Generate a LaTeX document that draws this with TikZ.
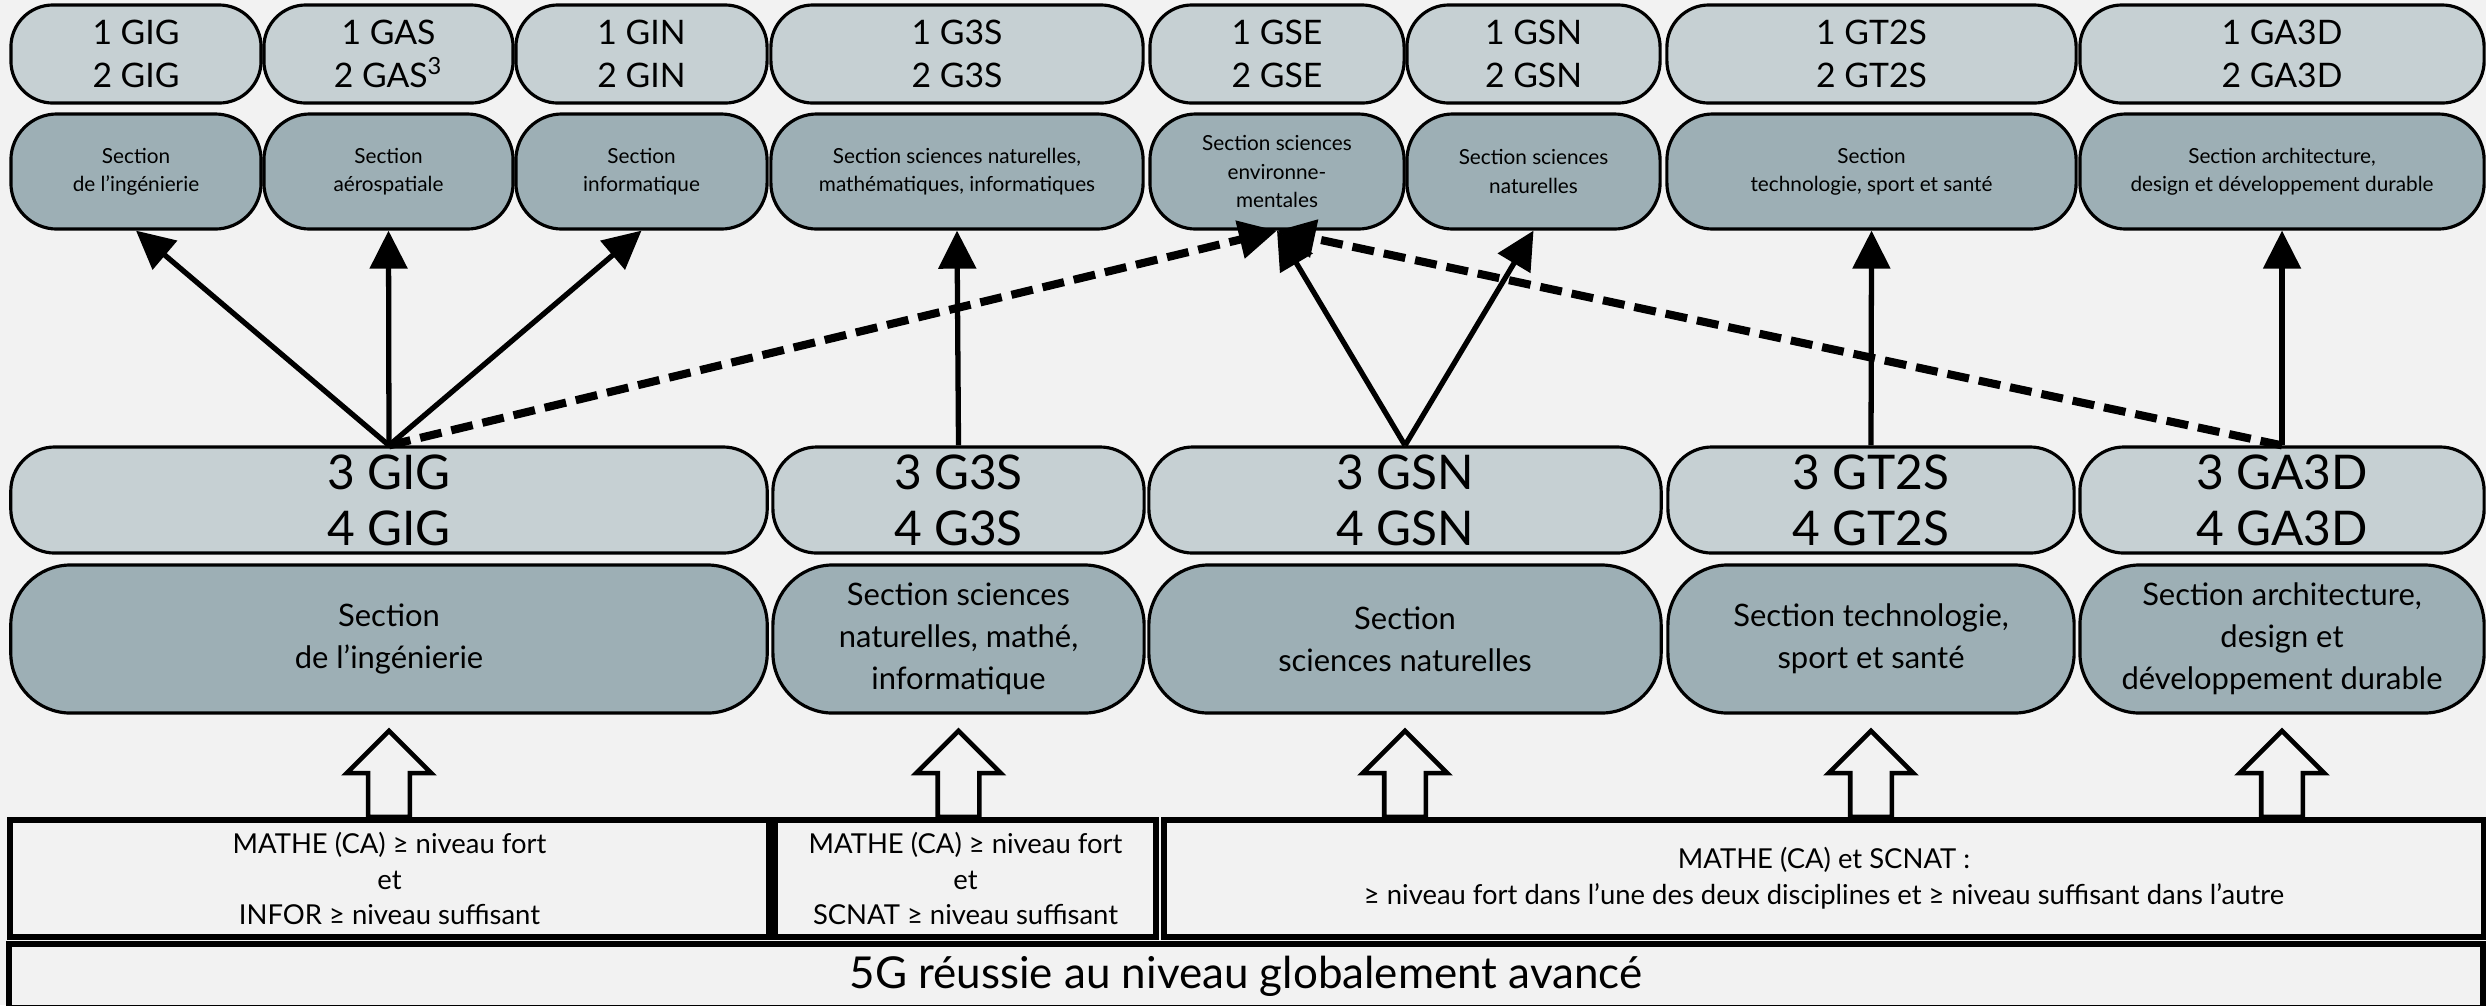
\documentclass[tikz,border=0pt]{standalone}
\usepackage{fontspec}
\setmainfont{Lato}
\usetikzlibrary{arrows.meta,shapes.arrows,calc}

\begin{document}
\begin{tikzpicture}[x=0.01cm,y=-0.01cm]
  % Colors
  \definecolor{backcolor}{HTML}{F2F2F2}
  \definecolor{lightcolor}{HTML}{C6D0D3}
  \definecolor{darkcolor}{HTML}{9DAFB5}

  % Styles
  \tikzstyle{pill}=[draw,line width=0.9pt,align=center,inner sep=0pt]
  \tikzstyle{year}=[pill,fill=lightcolor,minimum height=0.98cm,rounded corners=0.42cm,font=\fontsize{9.6}{12.2}\selectfont]
  \tikzstyle{section}=[pill,fill=darkcolor,minimum height=1.15cm,rounded corners=0.46cm,font=\fontsize{5.9}{8}\selectfont]
  \tikzstyle{upper year}=[pill,fill=lightcolor,minimum height=1.06cm,rounded corners=0.44cm,font=\fontsize{13.6}{16}\selectfont]
  \tikzstyle{upper section}=[pill,fill=darkcolor,minimum height=1.48cm,rounded corners=0.6cm,font=\fontsize{8.8}{11.9}\selectfont]
  \tikzstyle{condition}=[draw,line width=1.7pt,minimum height=1.17cm,align=center,font=\fontsize{7.8}{10.2}\selectfont]
  \tikzstyle{hollow arrow}=[draw,fill=backcolor,line width=1.3pt,single arrow,shape border rotate=90,anchor=tip,
    inner sep=0.185cm,minimum height=0.86cm,single arrow head extend=0.215cm,single arrow tip angle=90]
  \tikzstyle{thin arrow}=[line width=1.5pt,-{Triangle[length=0.38cm,width=0.37cm]}]
  \tikzstyle{dashed arrow}=[thin arrow,line width=2.3pt,dash pattern=on 0.22cm off 0.1cm]

  \useasboundingbox[fill=backcolor] (0,0) rectangle (2486,1005);

  % First and second years
  \node[year,minimum width=2.50cm] (a1) at (136,54) {1 GIG\\2 GIG};
  \node[year,minimum width=2.49cm] (a2) at (388.5,54) {1 GAS\\2 GAS\textsuperscript{3}};
  \node[year,minimum width=2.51cm] (a3) at (641.5,54) {1 GIN\\2 GIN};
  \node[year,minimum width=3.72cm] (a4) at (957,54) {1 G3S\\2 G3S};
  \node[year,minimum width=2.54cm] (a5) at (1277,54) {1 GSE\\2 GSE};
  \node[year,minimum width=2.53cm] (a6) at (1533.5,54) {1 GSN\\2 GSN};
  \node[year,minimum width=4.09cm] (a7) at (1871.5,54) {1 GT2S\\2 GT2S};
  \node[year,minimum width=4.04cm] (a8) at (2282,54) {1 GA3D\\2 GA3D};

  \node[section,minimum width=2.50cm] (b1) at (136,171.5) {Section\\de l’ingénierie};
  \node[section,minimum width=2.49cm] (b2) at (388.5,171.5) {Section\\aérospatiale};
  \node[section,minimum width=2.51cm] (b3) at (641.5,171.5) {Section\\informatique};
  \node[section,minimum width=3.72cm] (b4) at (957,171.5) {Section sciences naturelles,\\mathématiques, informatiques};
  \node[section,minimum width=2.54cm] (b5) at (1277,171.5) {Section sciences\\environne-\\mentales};
  \node[section,minimum width=2.53cm] (b6) at (1533.5,171.5) {Section sciences\\naturelles};
  \node[section,minimum width=4.09cm] (b7) at (1871.5,171.5) {Section\\technologie, sport et santé};
  \node[section,minimum width=4.04cm] (b8) at (2282,171.5) {Section architecture,\\design et développement durable};

  % Third and fourth years
  \node[upper year,minimum width=7.56cm] (c1) at (389,500) {3 GIG\\4 GIG};
  \node[upper year,minimum width=3.71cm] (c2) at (958.5,500) {3 G3S\\4 G3S};
  \node[upper year,minimum width=5.12cm] (c3) at (1405,500) {3 GSN\\4 GSN};
  \node[upper year,minimum width=4.06cm] (c4) at (1871,500) {3 GT2S\\4 GT2S};
  \node[upper year,minimum width=4.04cm] (c5) at (2282,500) {3 GA3D\\4 GA3D};

  \node[upper section,minimum width=7.56cm] (d1) at (389,639) {Section\\de l’ingénierie};
  \node[upper section,minimum width=3.71cm] (d2) at (958.5,639) {Section sciences\\naturelles, mathé,\\informatique};
  \node[upper section,minimum width=5.12cm] (d3) at (1405,639) {Section\\sciences naturelles};
  \node[upper section,minimum width=4.06cm] (d4) at (1871,639) {Section technologie,\\sport et santé};
  \node[upper section,minimum width=4.04cm] (d5) at (2282,639) {Section architecture,\\design et\\développement durable};

  % Conditions
  \node[condition,minimum width=7.59cm] (k1) at (389.5,878.5) {MATHE (CA) ≥ niveau fort\\et\\INFOR ≥ niveau suffisant};
  \node[condition,minimum width=3.81cm] (k2) at (965.5,878.5) {MATHE (CA) ≥ niveau fort\\et\\SCNAT ≥ niveau suffisant};
  \node[condition,minimum width=13.20cm] (k3) at (1824,878.5) {MATHE (CA) et SCNAT :\\≥ niveau fort dans l’une des deux disciplines et ≥ niveau suffisant dans l’autre};
  \node[condition,minimum width=24.72cm,minimum height=0.56cm,font=\fontsize{12.5}{15}\selectfont] (g) at (1246,976) {5G réussie au niveau globalement avancé};

  % Arrows
  \foreach \s/\k in {d1/k1,d2/k2,d3/k3,d4/k3,d5/k3}
    \node[hollow arrow] (up-\s) at ($(\s.south)+(0,13)$) {};

  \foreach \from/\to in {c1/b1,c1/b2,c1/b3,c2/b4,c3/b5,c3/b6,c4/b7,c5/b8}
    \draw[thin arrow] (\from.north) -- (\to.south);

  \draw[dashed arrow] (c1.north) -- (b5.south);
  \draw[dashed arrow] (c5.north) -- (b5.south);
\end{tikzpicture}
\end{document}
